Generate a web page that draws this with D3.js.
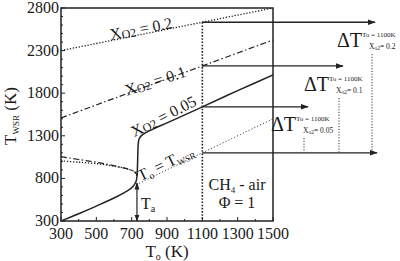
<!DOCTYPE html>
<html>
<head>
<meta charset="utf-8">
<script src="https://cdn.jsdelivr.net/npm/d3@7"></script>
<style>
  body { margin: 0; background: #fff; }
  svg text { font-family: "Liberation Serif", "Times New Roman", Times, serif; fill: #1a1a1a; }
</style>
</head>
<body>
<svg width="400" height="261"></svg>
<script>
// x ticks, y ticks
var xTicks = [300, 500, 700, 900, 1100, 1300, 1500];
var yTicks = [300, 800, 1300, 1800, 2300, 2800];

// XO2 = 0.2 and 0.1 (upper branches, near linear)
var o2_020 = [[300, 2300], [1500, 2800]];
var o2_010 = [[300, 1510], [1500, 2425]];
// XO2 = 0.05 full S-curve (solid)
var o2_005 = [[300, 300], [400, 385], [500, 475], [600, 570], [680, 660], [710, 712],
              [724, 760], [730, 820], [733, 950], [735, 1100], [737, 1200], [742, 1262],
              [755, 1302], [780, 1338], [820, 1378], [900, 1452], [1000, 1545],
              [1100, 1640], [1300, 1830], [1500, 2015]];
// middle branches going back to the left
var mid_dashdot = [[300, 1055], [400, 1022], [520, 982], [620, 940], [690, 902], [720, 870], [732, 832]];
var mid_dotted  = [[300, 1005], [400, 990], [520, 968], [620, 936], [690, 902], [720, 870], [732, 832]];
// To = TWSR
var diag = [[725, 725], [1500, 1500]];

var T_ref = 1100;
var T_a = 745;
var xo2Values = ["0.2", "0.1", "0.05"];
var T_at_ref = [2633, 2120, 1640];   // TWSR at To = 1100 K for each XO2

// label layout (pixels)
var arrowEnd = [375, 343, 308];
var labelX = [337, 304, 271];
var labelY = [47, 91, 131];
var dropX = [372, 339, 304];

var svg = d3.select("svg");
var x = d3.scaleLinear().domain([300, 1500]).range([61, 273]);
var y = d3.scaleLinear().domain([300, 2800]).range([221, 8]);

var defs = svg.append("defs");
defs.append("marker").attr("id", "arr").attr("viewBox", "0 0 10 10")
  .attr("refX", 9).attr("refY", 5).attr("markerWidth", 6).attr("markerHeight", 6)
  .attr("orient", "auto-start-reverse")
  .append("path").attr("d", "M0,1.5L10,5L0,8.5z").attr("fill", "#222");
defs.append("clipPath").attr("id", "plot").append("rect")
  .attr("x", 61).attr("y", 8).attr("width", 212).attr("height", 213);

var line = d3.line().x(d => x(d[0])).y(d => y(d[1])).curve(d3.curveCatmullRom.alpha(0.5));

var g = svg.append("g").attr("clip-path", "url(#plot)");
g.append("path").datum(o2_020).attr("d", line).attr("fill", "none")
  .attr("stroke", "#222").attr("stroke-width", 1.3).attr("stroke-dasharray", "1.3,1.7");
g.append("path").datum(o2_010).attr("d", line).attr("fill", "none")
  .attr("stroke", "#222").attr("stroke-width", 1.2).attr("stroke-dasharray", "6,2.5,1.5,2.5");
g.append("path").datum(o2_005).attr("d", line).attr("fill", "none")
  .attr("stroke", "#222").attr("stroke-width", 1.5);
g.append("path").datum(mid_dashdot).attr("d", line).attr("fill", "none")
  .attr("stroke", "#222").attr("stroke-width", 1.2).attr("stroke-dasharray", "6,2.5,1.5,2.5");
g.append("path").datum(mid_dotted).attr("d", line).attr("fill", "none")
  .attr("stroke", "#222").attr("stroke-width", 1.3).attr("stroke-dasharray", "1.3,1.7");
g.append("path").datum(diag).attr("d", line).attr("fill", "none")
  .attr("stroke", "#444").attr("stroke-width", 1).attr("stroke-dasharray", "1.2,2");

// vertical dotted at To = 1100
svg.append("line").attr("x1", x(T_ref)).attr("x2", x(T_ref))
  .attr("y1", y(T_at_ref[0])).attr("y2", y(300))
  .attr("stroke", "#222").attr("stroke-width", 1.6).attr("stroke-dasharray", "1.6,1.6");

// frame
svg.append("rect").attr("x", 61).attr("y", 8).attr("width", 212).attr("height", 213)
  .attr("fill", "none").attr("stroke", "#222").attr("stroke-width", 1.5);

// y axis ticks (inside)
var yMinor = d3.range(300, 2801, 100);
svg.selectAll(".ymin").data(yMinor).enter().append("line")
  .attr("x1", 61).attr("x2", d => yTicks.includes(d) ? 65 : 63)
  .attr("y1", d => y(d)).attr("y2", d => y(d)).attr("stroke", "#222");
svg.selectAll(".ylab").data(yTicks).enter().append("text")
  .attr("x", 59).attr("y", d => y(d) + 5).attr("text-anchor", "end")
  .attr("font-size", 16).text(d => d);

var xMinor = d3.range(300, 1501, 100);
svg.selectAll(".xmin").data(xMinor).enter().append("line")
  .attr("y1", 221).attr("y2", d => xTicks.includes(d) ? 217 : 219)
  .attr("x1", d => x(d)).attr("x2", d => x(d)).attr("stroke", "#222");
svg.selectAll(".xlab").data(xTicks).enter().append("text")
  .attr("x", d => x(d)).attr("y", 239).attr("text-anchor", "middle")
  .attr("font-size", 16).text(d => d);

// axis titles
var xt = svg.append("text").attr("x", 167).attr("y", 257).attr("text-anchor", "middle").attr("font-size", 17);
xt.append("tspan").text("T");
xt.append("tspan").attr("font-size", 10).attr("dy", 3).text("o");
xt.append("tspan").attr("dy", -3).text(" (K)");

var yt = svg.append("text").attr("transform", "translate(16,116) rotate(-90)")
  .attr("text-anchor", "middle").attr("font-size", 17);
yt.append("tspan").text("T");
yt.append("tspan").attr("font-size", 9).attr("dy", 3).text("WSR");
yt.append("tspan").attr("dy", -3).text(" (K)");

// curve labels
function xo2(cx, cy, ang, val) {
  var t = svg.append("text").attr("transform", "translate(" + cx + "," + cy + ") rotate(" + ang + ")")
    .attr("text-anchor", "middle").attr("font-size", 16);
  t.append("tspan").text("X");
  t.append("tspan").attr("font-size", 12).attr("dy", 1).text("O2");
  t.append("tspan").attr("dy", -1).text(" = " + val);
}
xo2(142, 34, -11, xo2Values[0]);
xo2(157, 86, -18, xo2Values[1]);
xo2(166, 121, -27, xo2Values[2]);

var dl = svg.append("text").attr("transform", "translate(168,168) rotate(-26)")
  .attr("text-anchor", "middle").attr("font-size", 16);
dl.append("tspan").text("T");
dl.append("tspan").attr("font-size", 10).attr("dy", 3).text("o");
dl.append("tspan").attr("dy", -3).text(" = T");
dl.append("tspan").attr("font-size", 9).attr("dy", 3).text("WSR");

// Ta arrow
svg.append("line").attr("x1", x(730)).attr("x2", x(730)).attr("y1", y(T_a)).attr("y2", y(300))
  .attr("stroke", "#222").attr("stroke-width", 1.2)
  .attr("marker-start", "url(#arr)").attr("marker-end", "url(#arr)");
var ta = svg.append("text").attr("x", 141).attr("y", 209).attr("font-size", 16);
ta.append("tspan").text("T");
ta.append("tspan").attr("font-size", 10).attr("dy", 3).text("a");

// CH4 - air, Phi = 1
var ch = svg.append("text").attr("x", 237).attr("y", 190).attr("text-anchor", "middle").attr("font-size", 16);
ch.append("tspan").text("CH");
ch.append("tspan").attr("font-size", 9).attr("dy", 3).text("4");
ch.append("tspan").attr("dy", -3).text(" - air");
svg.append("text").attr("x", 237).attr("y", 208).attr("text-anchor", "middle").attr("font-size", 16).text("\u03A6 = 1");

// horizontal arrows at To = 1100
T_at_ref.forEach(function(T, i) {
  svg.append("line").attr("x1", x(T_ref)).attr("x2", arrowEnd[i]).attr("y1", y(T)).attr("y2", y(T))
    .attr("stroke", "#222").attr("stroke-width", 1.3).attr("marker-end", "url(#arr)");
});
svg.append("line").attr("x1", x(T_ref)).attr("x2", 377).attr("y1", y(T_ref)).attr("y2", y(T_ref))
  .attr("stroke", "#222").attr("stroke-width", 1.3).attr("marker-end", "url(#arr)");

// delta T labels with dotted drops
xo2Values.forEach(function(v, i) {
  var lx = labelX[i], ly = labelY[i];
  var t = svg.append("text").attr("x", lx).attr("y", ly).attr("font-size", 20);
  t.append("tspan").text("\u0394T");
  t.append("tspan").attr("font-size", 7).attr("dy", -10).text("To = 1100K");
  var s = svg.append("text").attr("x", lx + 32).attr("y", ly + 2).attr("font-size", 7.5);
  s.append("tspan").text("X");
  s.append("tspan").attr("font-size", 5.5).attr("dy", 1).text("o2");
  s.append("tspan").attr("dy", -1).text("= " + v);
  svg.append("line").attr("x1", dropX[i]).attr("x2", dropX[i]).attr("y1", ly + 7).attr("y2", y(T_ref))
    .attr("stroke", "#333").attr("stroke-width", 1).attr("stroke-dasharray", "1.2,1.6");
});
</script>
</body>
</html>
